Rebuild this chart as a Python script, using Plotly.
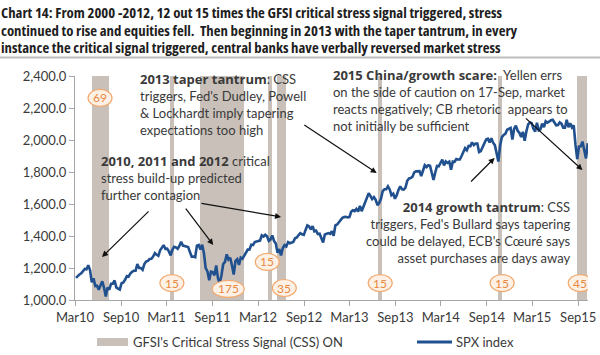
import plotly.graph_objects as go
import pandas as pd

# ---------------- data ----------------
spx_2010_start = "2010-03-05"
spx_2010 = [1138, 1150, 1160, 1167, 1179, 1194, 1192, 1217, 1187, 1111, 1136, 1087, 1089,
            1064, 1092, 1117, 1076, 1022, 1078, 1065, 1102, 1102, 1122, 1079, 1071, 1065,
            1105, 1110, 1126, 1149, 1146, 1166, 1176, 1183, 1183, 1225, 1200, 1200, 1189,
            1225, 1240, 1244, 1256, 1258]
spx_2011_start = "2011-01-07"
spx_2011 = [1272, 1293, 1283, 1276, 1311, 1329, 1343, 1320, 1321, 1304, 1279, 1314,
            1332, 1329, 1320, 1338, 1364, 1340, 1338, 1333, 1331, 1300, 1271, 1272, 1268,
            1340, 1344, 1316, 1345, 1292, 1199, 1179, 1124, 1177, 1174, 1154, 1216, 1136, 1105,
            1155, 1224, 1238, 1285, 1253, 1264, 1216, 1159, 1244, 1255, 1219, 1265, 1258]
spx_2012_start = "2012-01-06"
spx_2012 = [1278, 1289, 1315, 1316, 1345, 1343, 1362, 1366, 1370, 1371, 1404, 1397, 1408,
            1398, 1370, 1379, 1403, 1369, 1353, 1295, 1318, 1278, 1325, 1343, 1335, 1362,
            1355, 1357, 1363, 1386, 1391, 1406, 1418, 1411, 1407, 1438, 1466, 1460, 1441,
            1461, 1429, 1433, 1412, 1414, 1380, 1359, 1409, 1416, 1418, 1413, 1430, 1402]
spx_2013_start = "2013-01-04"
spx_2013 = [1466, 1472, 1486, 1503, 1513, 1518, 1520, 1516, 1518, 1551, 1561, 1556, 1569,
            1553, 1588, 1555, 1582, 1614, 1634, 1667, 1650, 1631, 1643, 1626, 1593, 1606,
            1632, 1680, 1692, 1692, 1710, 1691, 1655, 1664, 1633, 1655, 1688, 1710, 1692,
            1690, 1703, 1745, 1760, 1762, 1771, 1798, 1804, 1806, 1805, 1775, 1818, 1842]
spx_2014_start = "2014-01-03"
spx_2014 = [1831, 1842, 1839, 1790, 1750, 1797, 1838, 1836, 1859, 1878, 1841, 1866, 1857,
            1865, 1815, 1865, 1863, 1881, 1878, 1878, 1900, 1924, 1949, 1936, 1963, 1961,
            1985, 1968, 1978, 1978, 1925, 1931, 1955, 1988, 2003, 2008, 1985, 2011, 1983,
            1968, 1906, 1865, 1965, 2018, 2032, 2039, 2064, 2068, 2075, 2003, 2071, 2089]
spx_2015_start = "2015-01-02"
spx_2015 = [2058, 2045, 2019, 2051, 1995, 2055, 2097, 2110, 2105, 2071, 2053, 2108, 2061,
            2067, 2102, 2081, 2117, 2108, 2116, 2123, 2126, 2107, 2092, 2094, 2110, 2102,
            2077, 2077, 2127, 2080, 2104, 2078, 2092, 1971, 1880, 1960, 1961, 1990, 1930,
            1885, 1980]

# GFSI critical stress signal (CSS) ON periods
css_start = ["2010-05-08", "2011-03-15", "2011-07-13", "2012-04-10", "2012-05-16",
             "2013-06-24", "2014-10-16", "2015-08-27"]
css_end = ["2010-07-15", "2011-04-01", "2012-01-06", "2012-04-26", "2012-06-22",
           "2013-07-10", "2014-11-01", "2015-10-06"]

# circled day counts
circle_labels = ["69", "15", "175", "15", "35", "15", "15", "45"]
circle_dates = ["2010-06-09", "2011-03-23", "2011-11-03", "2012-04-07", "2012-06-14",
                "2013-07-02", "2014-11-01", "2015-09-09"]
circle_levels = [2263, 1106, 1069, 1238, 1075, 1106, 1106, 1106]

y_ticks = [1000, 1200, 1400, 1600, 1800, 2000, 2200, 2400]

title_lines = [
    "Chart 14: From 2000 -2012, 12 out 15 times the GFSI critical stress signal triggered, stress",
    "continued to rise and equities fell.&nbsp; Then beginning in 2013 with the taper tantrum, in every",
    "instance the critical signal triggered, central banks have verbally reversed market stress",
]

# ---------------- build ----------------
dates, values = [], []
for s, v in [(spx_2010_start, spx_2010), (spx_2011_start, spx_2011), (spx_2012_start, spx_2012),
             (spx_2013_start, spx_2013), (spx_2014_start, spx_2014), (spx_2015_start, spx_2015)]:
    dates += list(pd.date_range(s, periods=len(v), freq="7D"))
    values += v

W, H = 600, 355
L, R, T, B = 75, 12, 76, 55
PW, PH = W - L - R, H - T - B


def px(x):
    return (x - L) / PW


def py(y):
    return (H - B - y) / PH


band_color = "#c9c1b9"
line_color = "#21508f"
text_color = "#3a3a3a"
orange = "#e8873e"
FONT = "Lato"


def hb(t):
    return f"<span style=\"font-family:'Open Sans'\"><b>{t}</b></span>"


fig = go.Figure()

s_ts = pd.to_datetime(css_start)
e_ts = pd.to_datetime(css_end)
mids = s_ts + (e_ts - s_ts) / 2
widths = [(e - s).total_seconds() * 1000 for s, e in zip(s_ts, e_ts)]
fig.add_trace(go.Bar(x=mids, y=[1400] * len(mids), base=[1000] * len(mids), width=widths,
                     marker=dict(color=band_color, line=dict(width=0)), showlegend=False,
                     hoverinfo="skip"))

fig.add_trace(go.Scatter(x=dates, y=values, mode="lines",
                         line=dict(color=line_color, width=2.6), showlegend=False))

shapes = []
annotations = []

for lab, d, lv in zip(circle_labels, circle_dates, circle_levels):
    w = 32 if len(lab) == 3 else 24
    shapes.append(dict(type="circle", xref="x", yref="y", xsizemode="pixel", ysizemode="pixel",
                       xanchor=d, yanchor=lv, x0=-w / 2, x1=w / 2, y0=-8.5, y1=8.5,
                       fillcolor="#fdf1e6", line=dict(color="#f2a96e", width=1.2), layer="above"))
    annotations.append(dict(x=d, y=lv, xref="x", yref="y", text=lab, showarrow=False,
                            font=dict(family=FONT, size=12, color=orange)))

# title underline
shapes.append(dict(type="line", xref="paper", yref="paper", x0=px(0), x1=px(600),
                   y0=py(57.5), y1=py(57.5), line=dict(color="#bdbdbd", width=2)))

# legend
shapes.append(dict(type="rect", xref="paper", yref="paper", x0=px(97), x1=px(128),
                   y0=py(346), y1=py(338), fillcolor=band_color, line=dict(width=0)))
shapes.append(dict(type="line", xref="paper", yref="paper", x0=px(417), x1=px(452),
                   y0=py(342), y1=py(342), line=dict(color=line_color, width=3)))
annotations.append(dict(x=px(131), y=py(342), xref="paper", yref="paper", xanchor="left",
                        yanchor="middle", text="GFSI's Critical Stress Signal (CSS) ON",
                        showarrow=False, font=dict(family=FONT, size=13, color=text_color)))
annotations.append(dict(x=px(454), y=py(342), xref="paper", yref="paper", xanchor="left",
                        yanchor="middle", text="SPX index",
                        showarrow=False, font=dict(family=FONT, size=13, color=text_color)))

# title (one block; line spacing from 13.5px base, glyphs at 14.8px condensed)
title_text = "<br>".join(
    f"<span style='font-stretch:75%;font-size:14.8px'><b>{t}</b></span>" for t in title_lines)
annotations.append(dict(x=px(1), y=py(29.5), xref="paper", yref="paper",
                        xanchor="left", yanchor="middle", align="left", showarrow=False,
                        text=title_text, borderpad=0, borderwidth=0,
                        font=dict(family="Open Sans", size=13.5, color="#1e1e1e")))

blocks = [
    (138, 67.5, "left", hb("2013 taper tantrum") + ": CSS<br>triggers, Fed's Dudley, Powell<br>"
                        "&amp; Lockhardt imply tapering<br>expectations too high"),
    (99, 149.5, "left", hb("2010, 2011 and 2012") + " critical<br>stress build-up predicted<br>further contagion"),
    (331, 63.5, "left", hb("2015 China/growth scare:") + "&nbsp; Yellen errs<br>on the side of caution on 17-Sep, market<br>"
                        "reacts negatively; CB rhetoric&nbsp; appears to<br>not initially be sufficient"),
    (573, 195.5, "right", hb("2014 growth tantrum") + ": CSS<br>triggers, Fed's Bullard says tapering<br>"
                          "could be delayed, ECB's C\u0153ur\u00e9 says<br>asset purchases are days away"),
]
for x, y, al, t in blocks:
    annotations.append(dict(x=px(x), y=py(y), xref="paper", yref="paper", xanchor=al,
                            yanchor="top", align=al, text=t, showarrow=False,
                            font=dict(family=FONT, size=13, color=text_color)))

arrows = [
    ("2010-06-17", 1269, "2010-12-26", 1563),
    ("2011-09-04", 1344, "2011-05-13", 1581),
    ("2012-06-01", 1519, "2011-07-13", 1606),
    ("2013-06-18", 1794, "2012-08-27", 2100),
    ("2014-10-02", 1888, "2014-06-24", 1731),
    ("2015-09-18", 1812, "2015-01-29", 2144),
]
for hx, hy, tx, ty in arrows:
    annotations.append(dict(x=hx, y=hy, ax=tx, ay=ty, xref="x", yref="y", axref="x", ayref="y",
                            text="", showarrow=True, arrowhead=2, arrowsize=1, arrowwidth=1.2,
                            arrowcolor="#111111"))

fig.update_layout(
    width=W, height=H, autosize=False,
    margin=dict(l=L, r=R, t=T, b=B, pad=0),
    paper_bgcolor="white", plot_bgcolor="white",
    font=dict(family=FONT, size=13, color=text_color),
    bargap=0, showlegend=False,
    shapes=shapes, annotations=annotations,
    xaxis=dict(type="date", range=["2010-03-01", "2015-10-10"], tick0="2010-03-01", dtick="M6",
               tickformat="%b%y", showgrid=False, showline=True, linecolor="#a6a6a6", linewidth=1,
               ticks="outside", ticklen=5, tickcolor="#a6a6a6", zeroline=False, automargin=False,
               tickfont=dict(family=FONT, size=13, color=text_color)),
    yaxis=dict(range=[1000, 2400], tickvals=y_ticks, tickformat=",.1f", showgrid=False,
               showline=True, linecolor="#a6a6a6", linewidth=1, ticks="outside", ticklen=5,
               tickcolor="#a6a6a6", zeroline=False, automargin=False,
               tickfont=dict(family=FONT, size=13, color=text_color)),
)

fig.write_html("out.html", config={"displayModeBar": False},
               post_script="document.body.style.margin='0';document.body.style.overflow='hidden';")
